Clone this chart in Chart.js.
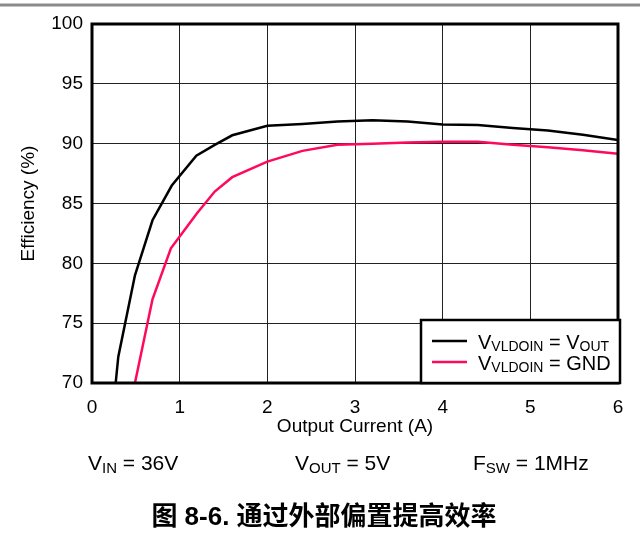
<!DOCTYPE html>
<html>
<head>
<meta charset="utf-8">
<script src="https://cdn.jsdelivr.net/npm/chart.js@4.4.0/dist/chart.umd.min.js"></script>
<style>
	html, body { margin: 0; padding: 0; background: #fff; }
</style>
</head>
<body>
<canvas id="myChart" width="640" height="544"></canvas>
<script>
var xTicks = [0, 1, 2, 3, 4, 5, 6];
var yTicks = [70, 75, 80, 85, 90, 95, 100];

// V_VLDOIN = V_OUT
var currentOut = [0.27, 0.30, 0.49, 0.69, 0.91, 1.19, 1.40, 1.60, 2.0, 2.4, 2.8, 3.2, 3.6, 4.0, 4.4, 4.8, 5.2, 5.6, 6.0];
var effOut = [70, 72.2, 79.0, 83.6, 86.5, 89.0, 89.9, 90.7, 91.5, 91.65, 91.85, 91.95, 91.85, 91.6, 91.55, 91.3, 91.1, 90.75, 90.3];

// V_VLDOIN = GND
var currentGnd = [0.49, 0.69, 0.90, 1.2, 1.4, 1.6, 2.0, 2.4, 2.8, 3.2, 3.6, 4.0, 4.4, 4.8, 5.2, 5.6, 6.0];
var effGnd = [70, 77.0, 81.25, 84.2, 86.0, 87.2, 88.5, 89.4, 89.9, 90.0, 90.1, 90.15, 90.15, 89.9, 89.7, 89.45, 89.15];

// pieces alternate: normal, subscript, normal, subscript ...
var legendLabels = [["V", "VLDOIN", " = V", "OUT"], ["V", "VLDOIN", " = GND"]];
var conditions = [["V", "IN", " = 36V"], ["V", "OUT", " = 5V"], ["F", "SW", " = 1MHz"]];
var caption = "图 8-6. 通过外部偏置提高效率";

var BLACK = "#000000";
var RED = "#ff0a5a";
var FONT = "'Liberation Sans', Arial, sans-serif";

function toPoints(xs, ys) {
	var pts = [];
	for (var i = 0; i < xs.length; i++) {
		pts.push({ x: xs[i], y: ys[i] });
	}
	return pts;
}

// text with alternating normal / subscript pieces
function drawSub(ctx, x, y, parts, size, subSize, subDrop) {
	ctx.textAlign = "left";
	ctx.textBaseline = "alphabetic";
	for (var i = 0; i < parts.length; i++) {
		var isSub = (i % 2 == 1);
		ctx.font = (isSub ? subSize : size) + "px " + FONT;
		ctx.fillText(parts[i], x, isSub ? y + subDrop : y);
		x += ctx.measureText(parts[i]).width;
	}
}

var decor = {
	id: "decor",
	afterDraw: function(chart) {
		var ctx = chart.ctx;
		var a = chart.chartArea;
		ctx.save();

		// grey rule at the top of the page
		ctx.strokeStyle = "#8a8a8a";
		ctx.lineWidth = 3;
		ctx.beginPath();
		ctx.moveTo(0, 5);
		ctx.lineTo(640, 5);
		ctx.stroke();

		// plot frame
		ctx.strokeStyle = BLACK;
		ctx.lineWidth = 3;
		ctx.strokeRect(a.left, a.top, a.right - a.left, a.bottom - a.top);

		// legend box
		ctx.fillStyle = "#fff";
		ctx.fillRect(421, 320, 199, 63);
		ctx.lineWidth = 2.5;
		ctx.strokeRect(421, 320, 199, 63);
		var colors = [BLACK, RED];
		var rows = [341, 362];
		for (var i = 0; i < 2; i++) {
			ctx.strokeStyle = colors[i];
			ctx.lineWidth = 2.5;
			ctx.beginPath();
			ctx.moveTo(432, rows[i]);
			ctx.lineTo(467, rows[i]);
			ctx.stroke();
			ctx.fillStyle = BLACK;
			drawSub(ctx, 478, rows[i] + 8, legendLabels[i], 20, 14, 2);
		}

		// test conditions
		var condX = [88, 295, 473];
		ctx.fillStyle = BLACK;
		for (var j = 0; j < conditions.length; j++) {
			drawSub(ctx, condX[j], 470, conditions[j], 21, 15, 3);
		}

		// figure caption
		ctx.font = "bold 26px " + FONT + ", 'Noto Sans CJK SC'";
		ctx.textAlign = "center";
		ctx.textBaseline = "middle";
		ctx.fillText(caption, 324, 518);

		ctx.restore();
	}
};

var ctx = document.getElementById("myChart");

var data = {
	datasets : [
		{
			label : "VVLDOIN = VOUT",
			data : toPoints(currentOut, effOut),
			borderColor : BLACK,
			backgroundColor : BLACK,
			borderWidth : 2.5,
			fill : false,
			tension : 0,
			pointRadius : 0
		},
		{
			label : "VVLDOIN = GND",
			data : toPoints(currentGnd, effGnd),
			borderColor : RED,
			backgroundColor : RED,
			borderWidth : 2.5,
			fill : false,
			tension : 0,
			pointRadius : 0
		}
	]
};

var myChart = new Chart(ctx, {
	type : "line",
	data : data,
	plugins : [decor],
	options : {
		responsive : false,
		animation : false,
		layout : { padding : { left : 0, right : 22, top : 24, bottom : 105 } },
		plugins : {
			legend : { display : false },
			tooltip : { enabled : false }
		},
		scales : {
			x : {
				type : "linear",
				min : xTicks[0],
				max : xTicks[xTicks.length - 1],
				afterBuildTicks : function(axis) {
					axis.ticks = xTicks.map(function(v) { return { value : v }; });
				},
				afterFit : function(axis) { axis.height = 56; },
				grid : { color : "#222", lineWidth : 1, drawTicks : false },
				border : { display : false },
				ticks : {
					color : BLACK,
					padding : 13,
					maxRotation : 0,
					font : { family : FONT, size : 19 }
				},
				title : {
					display : true,
					text : "Output Current (A)",
					color : BLACK,
					padding : { top : 0, bottom : 1 },
					font : { family : FONT, size : 19 }
				}
			},
			y : {
				type : "linear",
				min : yTicks[0],
				max : yTicks[yTicks.length - 1],
				afterBuildTicks : function(axis) {
					axis.ticks = yTicks.map(function(v) { return { value : v }; });
				},
				afterFit : function(axis) { axis.width = 92; },
				grid : { color : "#222", lineWidth : 1, drawTicks : false },
				border : { display : false },
				ticks : {
					color : BLACK,
					padding : 9,
					font : { family : FONT, size : 19 }
				},
				title : {
					display : true,
					text : "Efficiency (%)",
					color : BLACK,
					padding : { top : 17, bottom : 0 },
					font : { family : FONT, size : 19 }
				}
			}
		}
	}
});
</script>
</body>
</html>
